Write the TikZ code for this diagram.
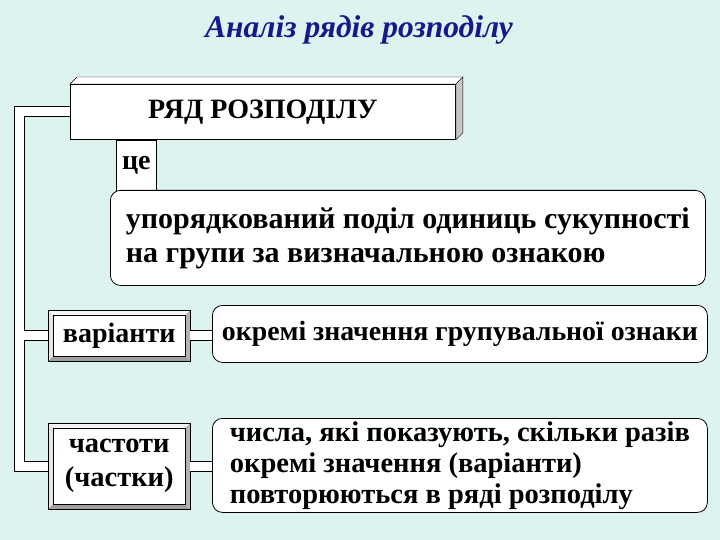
\documentclass[tikz,border=0pt]{standalone}
\usepackage{fontspec}
\setmainfont{Liberation Serif}
\usetikzlibrary{positioning}
\definecolor{bgcyan}{RGB}{221,243,240}
\definecolor{titleblue}{RGB}{24,24,140}
\newcommand\bevelframe[1]{%
  \fill[white!92!gray] (#1.north west) -- (#1.north east) -- ([shift={(-5,5)}]#1.north east) -- ([shift={(5,5)}]#1.north west) -- cycle;
  \fill[white!80!gray] (#1.north west) -- ([shift={(5,5)}]#1.north west) -- ([shift={(5,-5)}]#1.south west) -- (#1.south west) -- cycle;
  \fill[gray!60] (#1.north east) -- (#1.south east) -- ([shift={(-5,-5)}]#1.south east) -- ([shift={(-5,5)}]#1.north east) -- cycle;
  \fill[gray!75] (#1.south west) -- (#1.south east) -- ([shift={(-5,-5)}]#1.south east) -- ([shift={(5,-5)}]#1.south west) -- cycle;
  \draw (#1.north west) rectangle (#1.south east)
        ([shift={(5,5)}]#1.north west) rectangle ([shift={(-5,-5)}]#1.south east);}

\begin{document}
\begin{tikzpicture}[x=1pt,y=-1pt,
  txt/.style={font=\bfseries\fontsize{28}{34}\selectfont},
  plain/.style={draw,fill=white,line width=0.8pt,inner sep=0pt,anchor=north west,txt},
  rbox/.style={plain,rounded corners=10pt,align=left,minimum width=495pt},
  framed/.style={fill=white,inner sep=0pt,anchor=north west,align=center,txt}]
  \fill[bgcyan] (0,0) rectangle (720,540);
  \node[font=\bfseries\itshape\fontsize{31.5}{34}\selectfont,text=titleblue] (title) at (359,30) {Аналіз рядів розподілу};

  \node[plain,minimum width=385pt,minimum height=55pt] (rows) at (70,84) {РЯД РОЗПОДІЛУ};
  \filldraw[fill=white] (rows.north west) -- ++(7,-7) -- ([shift={(7,-7)}]rows.north east) -- (rows.north east) -- cycle;
  \filldraw[fill=gray!45] (rows.north east) -- ++(7,-7) -- ([shift={(7,-7)}]rows.south east) -- (rows.south east) -- cycle;
  \node[plain,minimum width=40pt,minimum height=51pt] (ce) at ([xshift=46pt]rows.south west) {це};

  \node[rbox,minimum width=595pt,minimum height=95pt,font=\bfseries\fontsize{30}{34}\selectfont] (defn) at (110,190)
    {упорядкований поділ одиниць сукупності\\на групи за визначальною ознакою};
  \node[rbox,minimum height=57pt,font=\bfseries\fontsize{27.8}{32}\selectfont] (values) at (212,305)
    {окремі значення групувальної ознаки};
  \node[rbox,minimum height=94pt,font=\bfseries\fontsize{28.5}{31}\selectfont] (freqtext) at (212,418)
    {числа, які показують, скільки разів\\окремі значення (варіанти)\\повторюються в ряді розподілу};

  \node[framed,minimum width=142pt,minimum height=51pt] (var) at (48,310) {варіанти};
  \bevelframe{var}
  \node[framed,minimum width=142pt,minimum height=86pt,font=\bfseries\fontsize{28.5}{34}\selectfont] (freq) at (48,423) {частоти\\(частки)};
  \bevelframe{freq}

  \coordinate (trunk) at (19.5,0);
  \foreach \w/\c in {11pt/black,9pt/white}
    \draw[line width=\w,\c] (rows.west) -| (trunk |- freq.west) -- (freq.west)
      (var.west) -- (trunk |- var.west)
      (var.east) -- (var.east -| values.west)
      (freq.east) -- (freq.east -| freqtext.west);
\end{tikzpicture}
\end{document}
